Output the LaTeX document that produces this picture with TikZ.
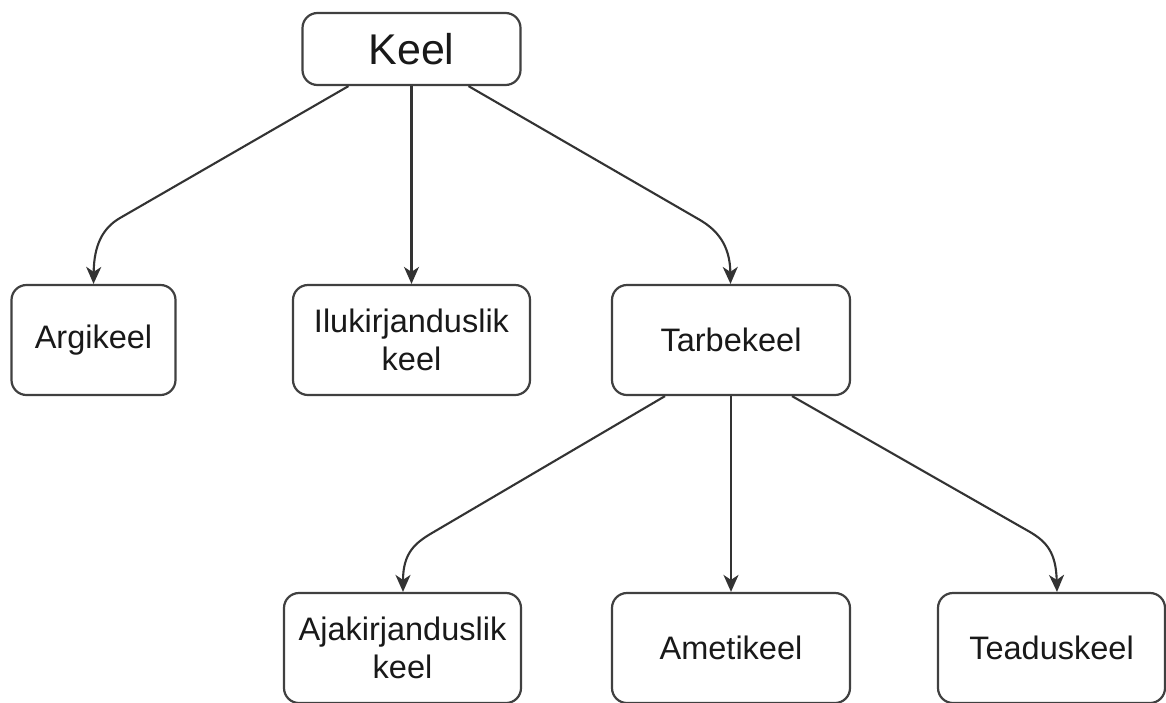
\documentclass[tikz,border=0pt]{standalone}
\usepackage{fontspec}
\setmainfont{Liberation Sans}
\usetikzlibrary{arrows.meta}

\tikzset{
  box/.style={draw=black!75, line width=2.2pt, rounded corners=15pt, fill=white,
    text=black!90, align=center, inner sep=0pt,
    font=\fontsize{32.5}{38.5}\selectfont},
  link/.style={draw=black!80, line width=2.1pt,
    -{Stealth[length=17pt, width=15pt, inset=5pt]}},
}

\begin{document}
\begin{tikzpicture}[x=1pt, y=-1pt]
  \clip (0,0) rectangle (1166,702);
  \fill[white] (0,0) rectangle (1166,702);

  % top level
  \node[box, minimum width=218pt, minimum height=72pt,
        font=\fontsize{43}{50}\selectfont] (keel) at (411.5,49) {Keel};

  % second level
  \node[box, minimum width=164pt, minimum height=110pt] (argi)  at (93.5,340)  {Argikeel};
  \node[box, minimum width=237pt, minimum height=110pt] (ilu)   at (411.5,340) {Ilukirjanduslik\\keel};
  \node[box, minimum width=238pt, minimum height=110pt] (tarbe) at (731,340)   {Tarbekeel};

  % third level (boxes run past the lower edge)
  \node[box, minimum width=237pt, minimum height=110pt] (ajak)   at (402.5,648) {Ajakirjanduslik\\keel};
  \node[box, minimum width=238pt, minimum height=110pt] (ameti)  at (731,648)   {Ametikeel};
  \node[box, minimum width=227pt, minimum height=110pt] (teadus) at (1051.5,648) {Teaduskeel};

  % connectors from Keel
  \draw[link] ([xshift=-63pt]keel.south) -- (120,218)
      .. controls (102.7,228) and (94,245) .. (argi.north);
  \draw[link] (keel.south -| ilu.north) -- (ilu.north);
  \draw[link] ([xshift=57pt]keel.south) -- (700,220)
      .. controls (717,230) and (730,245) .. ([xshift=-0.5pt]tarbe.north);

  % connectors from Tarbekeel
  \draw[link] ([xshift=-66pt]tarbe.south) -- (432,533)
      .. controls (415,543) and (403,553) .. ([xshift=0.5pt]ajak.north);
  \draw[link] (tarbe.south) -- (ameti.north);
  \draw[link] ([xshift=61pt]tarbe.south) -- (1030,532)
      .. controls (1047,542) and (1056,553) .. ([xshift=5.5pt]teadus.north);
\end{tikzpicture}
\end{document}
